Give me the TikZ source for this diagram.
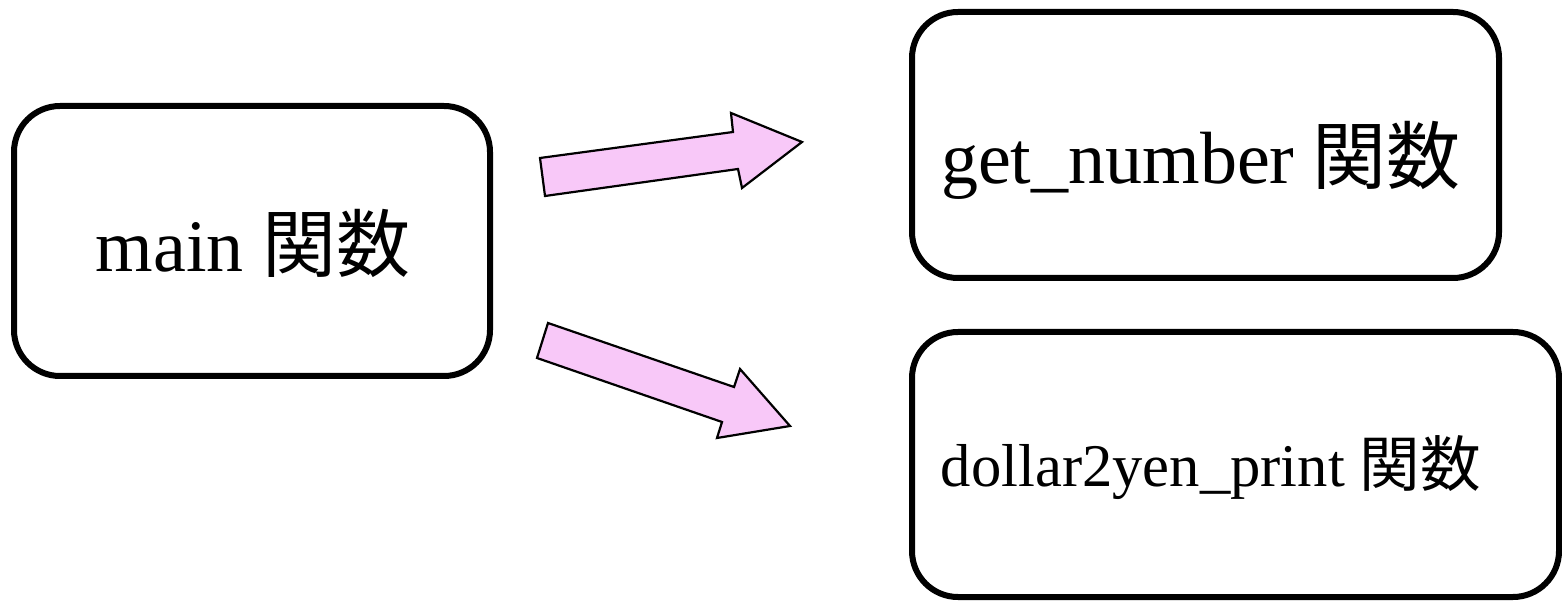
\documentclass[tikz,border=0pt]{standalone}
\usepackage{fontspec}
\setmainfont{Liberation Serif}
\newfontfamily\cjk{Noto Sans CJK JP}
\definecolor{arrowpink}{RGB}{248,200,248}
\begin{document}
\begin{tikzpicture}[x=0.5pt,y=-0.5pt,
  funcbox/.style={draw=black, line width=3pt, rounded corners=23pt},
  blockarrow/.style={draw=black, line width=1.1pt, fill=arrowpink, line join=miter},
  label/.style={inner sep=0pt, anchor=center}]
\useasboundingbox (0,0) rectangle (1562,603);
% function boxes
\draw[funcbox] (14,106) rectangle (490,376);
\draw[funcbox] (912,12) rectangle (1499,278);
\draw[funcbox] (912,332) rectangle (1559,597);
% labels
\node[label, font=\fontsize{37}{42}\selectfont] (main) at (253,243) {main {\cjk 関数}};
\node[label, font=\fontsize{37}{42}\selectfont] (getn) at (1201,160) {get\_number {\cjk 関数}};
\node[label, font=\fontsize{30.3}{35}\selectfont] (dollar) at (1211,468) {dollar2yen\_print {\cjk 関数}};
% block arrows from main to the two callees
\draw[blockarrow] (540,158) -- (733,132) -- (731,113) -- (802,142) -- (742,188) -- (738,169) -- (545,196) -- cycle;
\draw[blockarrow] (548,323) -- (734,387) -- (740,369) -- (790,426) -- (717,438) -- (722,422) -- (537,358) -- cycle;
\end{tikzpicture}
\end{document}
